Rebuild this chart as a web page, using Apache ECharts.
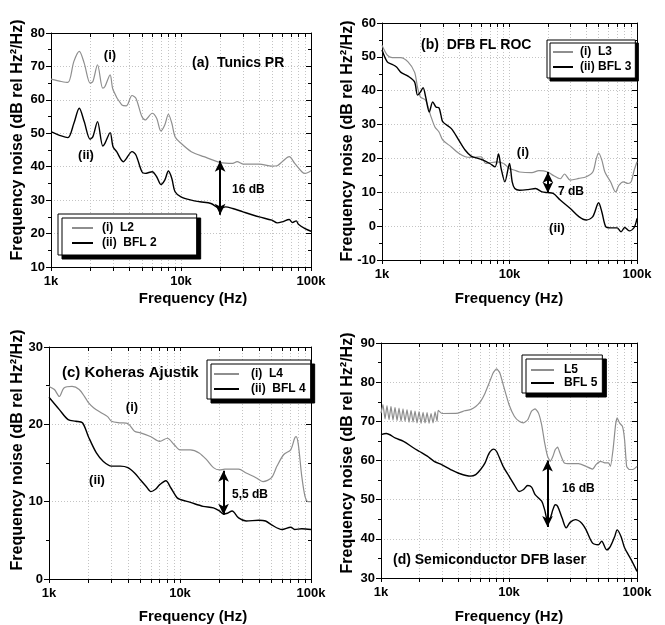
<!DOCTYPE html>
<html>
<head>
<meta charset="utf-8">
<script src="https://cdn.jsdelivr.net/npm/echarts@6/dist/echarts.min.js"></script>
<style>
  html, body { margin: 0; padding: 0; background: #fff; }
  #chart { width: 665px; height: 625px; }
</style>
</head>
<body>
<div id="chart"></div>
<script>
// tick positions (Hz) and labels
const xTicks = [1000, 2000, 3000, 4000, 5000, 6000, 7000, 8000, 9000,
  10000, 20000, 30000, 40000, 50000, 60000, 70000, 80000, 90000, 100000];
const xLabels = [1000, 10000, 100000];
const yRangeA = [10, 80];
const yRangeB = [-10, 60];
const yRangeC = [0, 30];
const yRangeD = [30, 90];

// (a) Tunics PR
const fA1 = [1000,1200,1350,1500,1650,1800,2000,2100,2280,2500,2600,2850,3000,3500,3800,4200,4500,5000,5300,6000,6500,7000,7500,8000,8500,9000,10000,12000,15000,20000,25000,27000,30000,40000,50000,55000,60000,68000,75000,85000,90000,100000];
const l2 = [66.2,65.5,65.2,71.5,74.5,71,65,65.5,70.5,63.5,64,67.5,63,58.5,58.2,61.3,60.5,55,54,56,54.5,50.7,52.5,55.7,53,49,47,44.5,43,41.3,41,41.5,40.8,40.8,40.2,40.3,41.5,43,41,38.5,38,38.8];
const fA2 = [1000,1200,1350,1500,1650,1800,2000,2100,2280,2500,2600,2850,3000,3200,3600,4200,4500,5000,5300,6000,6500,7000,7500,8000,8500,9000,10000,12000,14000,17000,20000,22000,25000,30000,40000,50000,55000,60000,68000,72000,77000,80000,90000,100000];
const bfl2 = [50.5,49.2,48.7,53,57.5,53.5,48.2,49,53.5,46.2,47,50.2,46,44.5,41.5,44.5,43.5,38.5,38,38.5,37,34.7,36,38.7,36.5,32.5,31,30,29.5,29,27.5,28,27.5,26.5,25,24,23.2,23.5,24.2,23.3,23.8,22.8,21.5,20.7];
const arrowA = [20000, 41.8, 25.6];

// (b) DFB FL ROC
const fB1 = [1000,1100,1200,1400,1600,1800,1900,2000,2200,2400,2600,2800,3000,3500,4000,4500,5000,6000,6500,7000,8000,9000,10000,11000,12000,15000,17000,20000,22000,25000,27000,30000,35000,40000,45000,48000,50000,53000,56000,62000,68000,72000,78000,85000,90000,95000,100000];
const l3 = [53.4,50.5,49.8,49.8,48.5,45.5,41,38.2,37.2,32.8,29.3,27.8,25.4,23.4,21.5,20.5,20.3,20.5,18.5,18.7,19,18.5,17,16.5,16,15.8,16.4,16,15,14,15.4,13.6,14.1,14.6,16,20,21.6,19.5,16,13.1,10.1,12,13.1,12.6,13.1,16.5,19];
const fB2 = [1000,1100,1200,1300,1400,1600,1800,1900,2000,2100,2200,2350,2500,2650,2800,2900,3000,3500,4000,4500,5000,6000,7000,7700,8200,8600,9200,10000,10500,11000,12000,14000,16000,18000,20000,22000,25000,30000,35000,40000,45000,50000,53000,57000,62000,70000,75000,80000,87000,95000,100000];
const bfl3 = [52,48.5,47.8,47,45.5,44.3,42.6,38.7,39.6,40.9,38.2,33.7,36.7,35.2,34.9,32.8,30.8,28.8,25.4,22.4,20.7,19.7,18.5,17.5,21.3,17,13.1,18.5,13.1,11.1,10.6,10.8,11.1,10.1,9.9,9.7,7.7,5.2,2.8,1.8,2.8,6.9,4.2,-0.2,-0.5,-0.5,-1.7,-0.4,-1.4,-0.4,2.3];
const arrowB = [20000, 16, 9.8];

// (c) Koheras Ajustik
const fC1 = [1000,1100,1200,1300,1500,1700,1900,2000,2200,2500,2800,3000,3500,4000,4500,5000,6000,7000,8000,9000,10000,12000,14000,16000,18000,20000,22000,25000,28000,32000,38000,43000,50000,55000,62000,70000,75000,77000,80000,85000,90000,95000,100000];
const l4 = [24.9,24.5,23.6,24.7,24.9,24.5,23.4,22.8,22.1,21.5,21,20.4,20.2,20.1,19.1,18.9,18.4,17.8,18.2,17.4,16.7,16.7,16.3,15.4,14.4,14.1,14.2,14.2,14.2,13.7,13.1,12.6,13.1,14.6,16.1,16.7,18.2,18.4,17.4,13.3,10.7,10,10];
const fC2 = [1000,1200,1400,1600,1800,2000,2300,2600,3000,3500,4000,4500,5000,5500,6000,6500,7000,7800,8500,9500,10000,12000,15000,18000,20000,21500,23000,25000,28000,32000,40000,45000,50000,60000,70000,75000,85000,100000];
const bfl4 = [23.5,21.9,20.6,20.4,20.2,18.4,16.3,15.2,14.6,14.6,14.4,13.7,12.8,12,11.3,11.6,12.2,12.7,11.8,10.5,10.3,9.9,9.4,9.2,8.8,8.4,8.5,8.8,7.9,7.5,7.6,7.5,7,6.4,6.7,6.4,6.5,6.4];
const arrowC = [21500, 14, 8.3];

// (d) Semiconductor DFB laser
const fD1 = [1000,1036,1075,1114,1155,1197,1241,1287,1334,1383,1434,1486,1541,1597,1656,1717,1780,1845,1913,1983,2056,2131,2209,2290,2374,2461,2551,2645,2742,2800,3000,4000,4500,5000,5500,6000,6500,7000,7500,8000,8500,9000,10000,11000,12000,13000,14000,15000,16000,17000,18000,19000,20000,21000,22000,23000,24000,25000,27000,30000,35000,40000,45000,48000,52000,56000,60000,62000,65000,68000,70000,73000,77000,80000,83000,87000,93000,100000];
const l5 = [72.1,74.3,70.6,74.0,70.4,73.8,70.3,73.6,70.2,73.4,70.0,73.2,70.0,73.0,69.8,72.8,69.8,72.6,69.6,72.5,69.5,72.3,69.6,72.2,69.5,72.0,69.6,72.4,70.0,72.8,72.0,72.1,72.7,73,73.8,75.1,77.2,79.8,82.3,83.4,82.3,79.4,74.3,71.3,70,69.6,70.4,72.6,73.2,72.1,69.1,64.5,61.1,59.8,61,62.8,63.4,61.9,59.4,59.2,59.2,58.5,57.8,59,59.8,59.4,59.4,58.5,62.8,69.1,70.9,69.6,68.7,65.3,58.5,57.7,57.7,58.5];
const fD2 = [1000,1100,1300,1500,1800,2000,2300,2600,3000,3500,4000,5000,5500,6000,6500,7000,7600,8000,9000,10000,11000,12000,13000,14000,15000,16000,18000,19000,20000,21000,22000,23000,24000,26000,28000,30000,33000,37000,40000,45000,50000,53000,58000,62000,67000,70000,75000,80000,90000,100000];
const bfl5 = [66.6,66.9,65.7,64.9,63.2,62.3,61.1,59.8,58.9,57.7,56.8,56,56.4,57.7,59.4,61.9,62.9,62.3,58.5,56,53.8,52.1,52.6,53.6,53.2,51.3,49.6,47.4,44.9,45.3,47.4,48.7,48.3,45.3,42.8,44.2,44.9,44,42.3,38.9,38.5,39.4,37.2,38.1,40.6,42.3,40.6,37.7,34.7,31.7];
const arrowD = [20000, 60, 43];

const FONT = '"Liberation Sans", Arial, sans-serif';
const GRAY = '#8e8e8e';
const GRID_LINE = { color: '#c4c4c4', width: 1, type: [1, 2] };
// log10 positions of the frequency ticks, for the tick/grid helper axes
const tickExp = xTicks.map(Math.log10);
const innerExp = tickExp.slice(1, -1);

const panels = [
  {
    grid: { left: 51, top: 33, width: 260, height: 234 }, y: yRangeA,
    gray: { name: '(i)  L2', f: fA1, v: l2 }, black: { name: '(ii)  BFL 2', f: fA2, v: bfl2 },
    arrow: arrowA,
    legend: { left: 58, top: 214, padding: [8, 40, 6, 13], itemWidth: 21, itemGap: 3, textPad: 4, shadow: 4 }
  },
  {
    grid: { left: 382, top: 23, width: 255, height: 237 }, y: yRangeB,
    gray: { name: '(i)  L3', f: fB1, v: l3 }, black: { name: '(ii) BFL 3', f: fB2, v: bfl3 },
    arrow: arrowB,
    legend: { left: 547, top: 40, padding: [6, 4, 5, 5], itemWidth: 20, itemGap: 3, textPad: 2, shadow: 3 }
  },
  {
    grid: { left: 49, top: 347, width: 262, height: 232 }, y: yRangeC,
    gray: { name: '(i)  L4', f: fC1, v: l4 }, black: { name: '(ii)  BFL 4', f: fC2, v: bfl4 },
    arrow: arrowC,
    legend: { left: 207, top: 360, padding: [8, 5, 4, 6], itemWidth: 25, itemGap: 3, textPad: 7, shadow: 4 }
  },
  {
    grid: { left: 381, top: 343, width: 256, height: 235 }, y: yRangeD,
    gray: { name: 'L5', f: fD1, v: l5 }, black: { name: 'BFL 5', f: fD2, v: bfl5 },
    arrow: arrowD,
    legend: { left: 522, top: 355, padding: [9, 5, 4, 8], itemWidth: 23, itemGap: 1, textPad: 5, shadow: 4 }
  }
];

const pairs = (f, v) => f.map((x, i) => [x, v[i]]);
const fmtK = v => (v / 1000) + 'k';
const boldText = (size) => ({ fontFamily: FONT, fontWeight: 'bold', fontSize: size, color: '#000' });
const AXIS_LINE = { show: true, onZero: false, lineStyle: { color: '#000', width: 1 } };
const NO_LINE = { show: false, onZero: false };

const grid = [], xAxis = [], yAxis = [], series = [], legend = [];

panels.forEach((p, i) => {
  grid.push(p.grid);
  // data axis: log scale, labels only
  xAxis.push({
    type: 'log', logBase: 10, gridIndex: i, position: 'bottom', min: 1000, max: 100000,
    axisLine: AXIS_LINE,
    axisTick: { show: false },
    axisLabel: Object.assign({ formatter: fmtK, margin: 8 }, boldText(13)),
    splitLine: { show: false },
    z: 2
  });
  // helper: outward ticks at 1k..9k, 10k..90k, 100k
  xAxis.push({
    type: 'value', gridIndex: i, position: 'bottom', min: 3, max: 5,
    axisLine: NO_LINE,
    axisTick: { show: true, inside: false, length: 4, customValues: tickExp, lineStyle: { color: '#000' } },
    axisLabel: { show: false },
    splitLine: { show: false }
  });
  // helper: dotted vertical grid drawn as full-height inside ticks
  xAxis.push({
    type: 'value', gridIndex: i, position: 'bottom', min: 3, max: 5,
    axisLine: NO_LINE,
    axisTick: { show: true, inside: true, length: p.grid.height, customValues: innerExp, lineStyle: GRID_LINE },
    axisLabel: { show: false },
    splitLine: { show: false },
    z: -1
  });
  // helper: top frame with inward ticks
  xAxis.push({
    type: 'value', gridIndex: i, position: 'top', min: 3, max: 5,
    axisLine: AXIS_LINE,
    axisTick: { show: true, inside: true, length: 4, customValues: tickExp, lineStyle: { color: '#000' } },
    axisLabel: { show: false },
    splitLine: { show: false }
  });
  yAxis.push({
    type: 'value', gridIndex: i, position: 'left', min: p.y[0], max: p.y[1], interval: 10,
    axisLine: AXIS_LINE,
    axisTick: { show: true, inside: false, length: 5, lineStyle: { color: '#000' } },
    minorTick: { show: true, splitNumber: 2, length: 3, lineStyle: { color: '#000' } },
    axisLabel: Object.assign({ margin: 6 }, boldText(13)),
    splitLine: { show: true, lineStyle: GRID_LINE }
  });
  yAxis.push({
    type: 'value', gridIndex: i, position: 'right', min: p.y[0], max: p.y[1], interval: 10,
    axisLine: AXIS_LINE,
    axisTick: { show: true, inside: true, length: 5, lineStyle: { color: '#000' } },
    minorTick: { show: true, splitNumber: 2, length: 3, lineStyle: { color: '#000' } },
    axisLabel: { show: false },
    splitLine: { show: false }
  });
  series.push({
    name: p.gray.name, type: 'line', xAxisIndex: 4 * i, yAxisIndex: 2 * i,
    data: pairs(p.gray.f, p.gray.v), symbol: 'none', smooth: i === 3 ? 0.15 : 0.3,
    lineStyle: { color: GRAY, width: 1.2 }, itemStyle: { color: GRAY }, z: 3
  });
  series.push({
    name: p.black.name, type: 'line', xAxisIndex: 4 * i, yAxisIndex: 2 * i,
    data: pairs(p.black.f, p.black.v), symbol: 'none', smooth: 0.3,
    lineStyle: { color: '#000', width: 1.4 }, itemStyle: { color: '#000' }, z: 4,
    markLine: {
      silent: true, symbol: ['arrow', 'arrow'], symbolSize: [8, 11],
      label: { show: false },
      lineStyle: { color: '#000', width: 2, type: 'solid' },
      data: [[{ coord: [p.arrow[0], p.arrow[1]] }, { coord: [p.arrow[0], p.arrow[2]] }]]
    }
  });
  const L = p.legend;
  legend.push({
    show: true, orient: 'vertical', left: L.left, top: L.top,
    data: [p.gray.name, p.black.name], selectedMode: false,
    itemWidth: L.itemWidth, itemHeight: 12, itemGap: L.itemGap, padding: L.padding,
    itemStyle: { opacity: 0 },
    backgroundColor: '#fff', borderColor: '#000', borderWidth: 1, borderRadius: 0,
    shadowColor: '#000', shadowBlur: 0, shadowOffsetX: L.shadow, shadowOffsetY: L.shadow,
    textStyle: Object.assign({ padding: [0, 0, 0, L.textPad] }, boldText(12))
  });
});

const txt = (text, x, y, size, extra) => ({
  type: 'text', x: x, y: y, z: 100,
  style: Object.assign({ text: text, font: 'bold ' + size + 'px ' + FONT, fill: '#000',
    textAlign: 'left', textVerticalAlign: 'middle' }, extra || {})
});
const yName = 'Frequency noise (dB rel Hz\u00B2/Hz)';
const xName = 'Frequency (Hz)';
const yTitle = (x, y) => Object.assign(txt(yName, 0, 0, 16, { textAlign: 'center' }), { x: x, y: y, rotation: Math.PI / 2 });

const graphic = [
  txt('(a)  Tunics PR', 192, 63, 14),
  txt('(b)  DFB FL ROC', 421, 45, 14),
  txt('(c) Koheras Ajustik', 62, 373, 15),
  txt('(d) Semiconductor DFB laser', 393, 560, 14),
  txt('(i)', 110, 55, 13, { textAlign: 'center' }),
  txt('(ii)', 86, 155, 13, { textAlign: 'center' }),
  txt('(i)', 523, 152, 13, { textAlign: 'center' }),
  txt('(ii)', 557, 228, 13, { textAlign: 'center' }),
  txt('(i)', 132, 407, 13, { textAlign: 'center' }),
  txt('(ii)', 97, 480, 13, { textAlign: 'center' }),
  txt('16 dB', 232, 190, 12),
  txt('7 dB', 558, 192, 12),
  txt('5,5 dB', 232, 495, 12),
  txt('16 dB', 562, 489, 12),
  txt(xName, 193, 299, 15, { textAlign: 'center' }),
  txt(xName, 509, 299, 15, { textAlign: 'center' }),
  txt(xName, 193, 617, 15, { textAlign: 'center' }),
  txt(xName, 509, 617, 15, { textAlign: 'center' }),
  yTitle(18, 140),
  yTitle(348, 141),
  yTitle(18, 450),
  yTitle(348, 453)
];

const chart = echarts.init(document.getElementById('chart'), null, { renderer: 'canvas' });
chart.setOption({
  animation: false,
  backgroundColor: '#fff',
  grid: grid,
  xAxis: xAxis,
  yAxis: yAxis,
  legend: legend,
  series: series,
  graphic: graphic
});
</script>
</body>
</html>
